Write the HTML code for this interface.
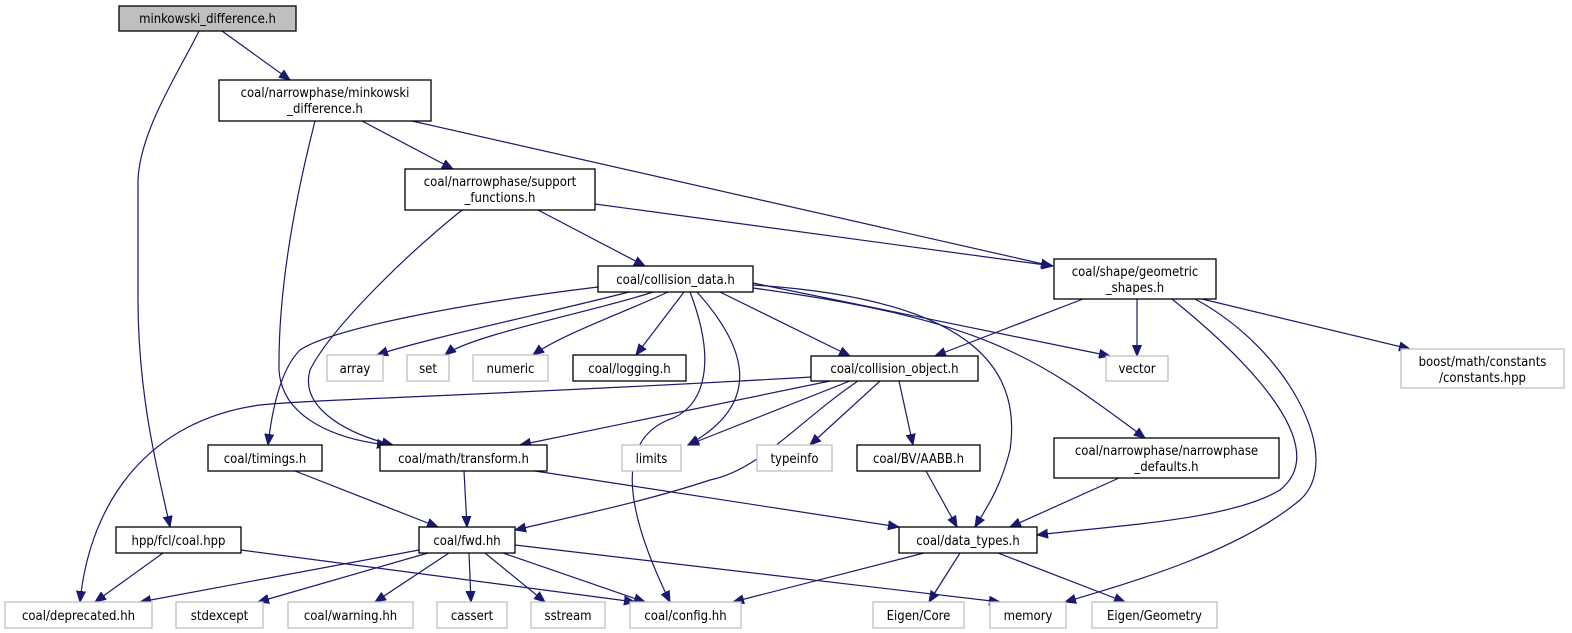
<!DOCTYPE html>
<html><head><meta charset="utf-8"><style>
html,body{margin:0;padding:0;background:#fff;}
svg{display:block;}
text{font-family:"DejaVu Sans Condensed","DejaVu Sans","Liberation Sans",sans-serif;font-size:13px;fill:#000;text-anchor:middle;}
.b{fill:#fff;stroke:#000;stroke-width:1.3;}
.g{fill:#fff;stroke:#bfbfbf;stroke-width:1.3;}
.e{fill:none;stroke:#191970;stroke-width:1.2;marker-end:url(#a);}
</style></head><body>
<svg width="1572" height="633" viewBox="0 0 1572 633" xmlns="http://www.w3.org/2000/svg">
<defs><marker id="a" markerUnits="userSpaceOnUse" markerWidth="12" markerHeight="10" refX="11" refY="5" orient="auto"><path d="M0,0.5 L11,5 L0,9.5 z" fill="#191970" stroke="#191970"/></marker></defs>

<!-- edges -->
<path class="e" d="M222,31 L290,80"/>
<path class="e" d="M199,31 C180,70 140,130 138,180 L138,300 C138,400 160,480 170,527"/>
<path class="e" d="M362,121 L453,169"/>
<path class="e" d="M315,121 C300,180 278,280 279,370 C282,420 340,440 388,445"/>
<path class="e" d="M412,121 L1052,266"/>
<path class="e" d="M538,210 L645,266"/>
<path class="e" d="M595,204 L1053,266"/>
<path class="e" d="M462,210 C400,260 330,330 310,370 C300,405 340,432 393,445"/>
<path class="e" d="M598,287 C450,305 330,330 300,350 C280,370 272,410 268,445"/>
<path class="e" d="M629,292 C560,310 420,340 377,355"/>
<path class="e" d="M653,292 C600,310 470,335 445,355"/>
<path class="e" d="M668,292 C630,310 560,335 533,355"/>
<path class="e" d="M684,292 L636,355"/>
<path class="e" d="M690,292 C720,370 700,410 668,420 C620,440 620,500 670,602"/>
<path class="e" d="M697,292 C740,340 770,400 688,445"/>
<path class="e" d="M720,292 L850,356"/>
<path class="e" d="M753,285 C990,300 1020,380 1010,450 C1000,490 985,510 975,527"/>
<path class="e" d="M753,288 C990,320 1040,360 1145,438"/>
<path class="e" d="M753,283 L1110,356"/>
<path class="e" d="M812,377 C500,395 300,400 260,405 C150,420 90,500 80,602"/>
<path class="e" d="M830,381 L520,445"/>
<path class="e" d="M850,381 L688,445"/>
<path class="e" d="M858,381 C800,420 760,470 710,480 C650,500 580,515 515,530"/>
<path class="e" d="M880,381 L810,445"/>
<path class="e" d="M899,381 L913,445"/>
<path class="e" d="M1083,299 L935,356"/>
<path class="e" d="M1137,299 L1137,356"/>
<path class="e" d="M1172,299 C1260,370 1330,450 1280,490 C1230,520 1120,525 1037,535"/>
<path class="e" d="M1195,299 C1290,350 1345,460 1300,500 C1240,550 1140,580 1065,602"/>
<path class="e" d="M1202,299 L1410,349"/>
<path class="e" d="M926,471 L957,527"/>
<path class="e" d="M1119,478 L1010,527"/>
<path class="e" d="M464,471 L467,527"/>
<path class="e" d="M535,471 L899,527"/>
<path class="e" d="M295,471 L438,527"/>
<path class="e" d="M163,553 L95,602"/>
<path class="e" d="M241,550 L635,602"/>
<path class="e" d="M419,550 L140,602"/>
<path class="e" d="M428,553 L258,602"/>
<path class="e" d="M449,553 L375,602"/>
<path class="e" d="M469,553 L471,602"/>
<path class="e" d="M485,553 L545,602"/>
<path class="e" d="M503,553 L645,602"/>
<path class="e" d="M515,545 L1000,602"/>
<path class="e" d="M924,553 L733,602"/>
<path class="e" d="M960,553 L929,602"/>
<path class="e" d="M998,553 L1125,602"/>

<!-- nodes -->
<rect x="119" y="6" width="177" height="25" fill="#bfbfbf" stroke="#000" stroke-width="1.3"/><text x="207.5" y="23">minkowski_difference.h</text>
<rect class="b" x="219" y="80" width="212" height="41"/><text x="325" y="97">coal/narrowphase/minkowski</text><text x="325" y="113">_difference.h</text>
<rect class="b" x="405" y="169" width="190" height="41"/><text x="500" y="186">coal/narrowphase/support</text><text x="500" y="202">_functions.h</text>
<rect class="b" x="598" y="266" width="155" height="26"/><text x="675.5" y="284">coal/collision_data.h</text>
<rect class="b" x="1054" y="259" width="162" height="40"/><text x="1135" y="276">coal/shape/geometric</text><text x="1135" y="292">_shapes.h</text>
<rect class="g" x="1401" y="349" width="163" height="39"/><text x="1482.5" y="366">boost/math/constants</text><text x="1482.5" y="382">/constants.hpp</text>
<rect class="g" x="327" y="355" width="56" height="26"/><text x="355" y="373">array</text>
<rect class="g" x="407" y="355" width="42" height="26"/><text x="428" y="373">set</text>
<rect class="g" x="473" y="355" width="75" height="26"/><text x="510.5" y="373">numeric</text>
<rect class="b" x="573" y="355" width="113" height="26"/><text x="629.5" y="373">coal/logging.h</text>
<rect class="b" x="811" y="356" width="167" height="25"/><text x="894.5" y="373">coal/collision_object.h</text>
<rect class="g" x="1106" y="356" width="62" height="25"/><text x="1137" y="373">vector</text>
<rect class="b" x="208" y="445" width="114" height="26"/><text x="265" y="463">coal/timings.h</text>
<rect class="b" x="380" y="445" width="167" height="26"/><text x="463.5" y="463">coal/math/transform.h</text>
<rect class="g" x="622" y="445" width="59" height="26"/><text x="651.5" y="463">limits</text>
<rect class="g" x="757" y="445" width="75" height="26"/><text x="794.5" y="463">typeinfo</text>
<rect class="b" x="857" y="445" width="123" height="26"/><text x="918.5" y="463">coal/BV/AABB.h</text>
<rect class="b" x="1054" y="438" width="225" height="40"/><text x="1166.5" y="455">coal/narrowphase/narrowphase</text><text x="1166.5" y="471">_defaults.h</text>
<rect class="b" x="116" y="527" width="125" height="26"/><text x="178.5" y="545">hpp/fcl/coal.hpp</text>
<rect class="b" x="419" y="527" width="96" height="26"/><text x="467" y="545">coal/fwd.hh</text>
<rect class="b" x="899" y="527" width="138" height="26"/><text x="968" y="545">coal/data_types.h</text>
<rect class="g" x="5" y="602" width="147" height="26"/><text x="78.5" y="620">coal/deprecated.hh</text>
<rect class="g" x="176" y="602" width="87" height="26"/><text x="219.5" y="620">stdexcept</text>
<rect class="g" x="288" y="602" width="125" height="26"/><text x="350.5" y="620">coal/warning.hh</text>
<rect class="g" x="437" y="602" width="70" height="26"/><text x="472" y="620">cassert</text>
<rect class="g" x="531" y="602" width="74" height="26"/><text x="568" y="620">sstream</text>
<rect class="g" x="630" y="602" width="111" height="26"/><text x="685.5" y="620">coal/config.hh</text>
<rect class="g" x="873" y="602" width="91" height="26"/><text x="918.5" y="620">Eigen/Core</text>
<rect class="g" x="990" y="602" width="76" height="26"/><text x="1028" y="620">memory</text>
<rect class="g" x="1092" y="602" width="125" height="26"/><text x="1154.5" y="620">Eigen/Geometry</text>
</svg>
</body></html>
